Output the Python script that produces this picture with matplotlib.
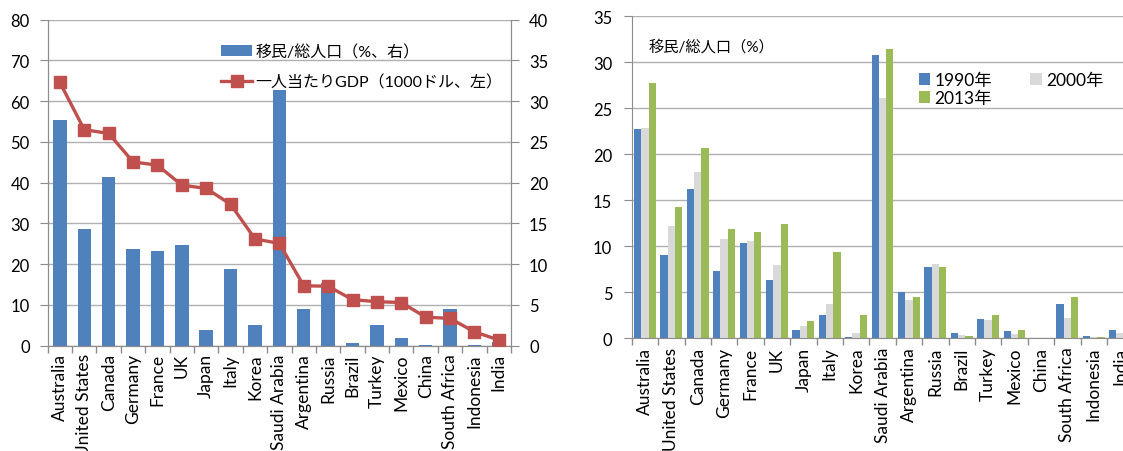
import numpy as np
import matplotlib
matplotlib.use("Agg")
import matplotlib.pyplot as plt
from matplotlib.patches import Patch
from matplotlib.lines import Line2D

plt.rcParams['font.family'] = ['Lato', 'Noto Sans CJK JP', 'DejaVu Sans']

countries = ["Australia", "United States", "Canada", "Germany", "France", "UK",
             "Japan", "Italy", "Korea", "Saudi Arabia", "Argentina", "Russia",
             "Brazil", "Turkey", "Mexico", "China", "South Africa", "Indonesia",
             "India"]

# Immigrant share of total population (%)
share_1990 = [22.7, 9.1, 16.2, 7.35, 10.4, 6.3, 0.9, 2.5, 0.15, 30.8, 5.0, 7.75,
              0.55, 2.1, 0.8, 0.06, 3.75, 0.25, 0.85]
share_2000 = [22.9, 12.2, 18.1, 10.8, 10.6, 8.0, 1.3, 3.7, 0.55, 26.1, 4.2, 8.1,
              0.35, 2.0, 0.5, 0.04, 2.2, 0.15, 0.6]
share_2013 = [27.7, 14.3, 20.7, 11.9, 11.6, 12.4, 1.9, 9.4, 2.5, 31.4, 4.5, 7.7,
              0.3, 2.5, 0.9, 0.07, 4.5, 0.12, 0.5]

# GDP per capita (thousand US$)
gdp_per_capita = [64.6, 53.0, 52.1, 45.1, 44.3, 39.4, 38.6, 34.7, 26.2, 25.1,
                  14.7, 14.6, 11.3, 10.8, 10.6, 7.0, 6.7, 3.4, 1.4]

label_share_lr = "移民/総人口（%、右）"
label_gdp = "一人当たりGDP（1000ドル、左）"
label_share = "移民/総人口（%）"
year_labels = ["1990年", "2000年", "2013年"]

BLUE = "#4F81BD"
GRAY = "#D9D9D9"
GREEN = "#9BBB59"
RED = "#C0504D"
SPINE = "#8C8C8C"
GRID = "#B0B0B0"
FS = 11
TICK_FS = 12
XLABEL_FS = 12.5

W, H = 1123, 452
fig = plt.figure(figsize=(W / 100, H / 100), dpi=100)


def rect(x0, y_top, x1, y_bot):
    return [x0 / W, 1 - y_bot / H, (x1 - x0) / W, (y_bot - y_top) / H]


def style_xaxis(ax, n, pad):
    ax.set_xlim(-0.5, n - 0.5)
    ax.set_xticks(np.arange(n + 1) - 0.5)
    ax.set_xticklabels([])
    ax.set_xticks(np.arange(n), minor=True)
    ax.set_xticklabels(countries, minor=True, rotation=90, fontsize=XLABEL_FS,
                       va="top", ha="center")
    ax.tick_params(axis="x", which="major", length=5, color=SPINE, width=1)
    ax.tick_params(axis="x", which="minor", length=0, pad=pad)


n = len(countries)
x = np.arange(n)

# ---- Left panel: GDP per capita (line, left axis) and 2013 share (bars, right axis)
axl = fig.add_axes(rect(47.7, 20.7, 511, 346.7))
axb = axl.twinx()

axb.bar(x, share_2013, width=0.55, color=BLUE, zorder=2)
axb.set_ylim(0, 40)
axb.set_yticks(np.arange(0, 41, 5))
axb.grid(axis="y", color=GRID, linewidth=1)
axb.set_axisbelow(True)

axl.plot(x, gdp_per_capita, color=RED, linewidth=2.4, marker="s",
         markersize=8.3, markerfacecolor=RED, markeredgecolor=RED, zorder=3)
axl.set_ylim(0, 80)
axl.set_yticks(np.arange(0, 81, 10))
axl.set_zorder(axb.get_zorder() + 1)
axl.patch.set_visible(False)

style_xaxis(axl, n, 5.5)
for a in (axl, axb):
    for s in a.spines.values():
        s.set_color(SPINE)
    a.spines["top"].set_visible(False)
axl.tick_params(axis="y", length=6, color=SPINE, pad=7, labelsize=TICK_FS)
axb.tick_params(axis="y", length=6, color=SPINE, pad=7, labelsize=TICK_FS)

handles = [Patch(facecolor=BLUE, edgecolor="none"),
           Line2D([0], [0], color=RED, linewidth=2.4, marker="s",
                  markersize=8.3)]
axl.legend(handles, [label_share_lr, label_gdp], loc="upper left",
           bbox_to_anchor=(221 / W, 1 - 45 / H), bbox_transform=fig.transFigure,
           frameon=False, fontsize=FS + 0.5, handlelength=1.95, handletextpad=0.2,
           labelspacing=0.95, borderpad=0, borderaxespad=0)

# ---- Right panel: share by year
axr = fig.add_axes(rect(631.7, 17.3, 631.7 + 26.4 * n, 339.3))
bw = 0.277
axr.bar(x - bw, share_1990, width=bw, color=BLUE, zorder=2, label=year_labels[0])
axr.bar(x, share_2000, width=bw, color=GRAY, zorder=2, label=year_labels[1])
axr.bar(x + bw, share_2013, width=bw, color=GREEN, zorder=2, label=year_labels[2])
axr.set_ylim(0, 35)
axr.set_yticks(np.arange(0, 36, 5))
axr.grid(axis="y", color=GRID, linewidth=1)
axr.set_axisbelow(True)
style_xaxis(axr, n, 6)
for s in axr.spines.values():
    s.set_color(SPINE)
axr.spines["top"].set_visible(False)
axr.spines["right"].set_visible(False)
axr.tick_params(axis="y", length=6, color=SPINE, pad=8, labelsize=TICK_FS)

axr.text(649 / W, 1 - 46.7 / H, label_share, transform=fig.transFigure,
         fontsize=FS, va="center", ha="left")

h, l = axr.get_legend_handles_labels()
order = [0, 2, 1]
axr.legend([h[i] for i in order], [l[i] for i in order], ncol=2,
           loc="upper left", bbox_to_anchor=(919 / W, 1 - 73 / H),
           bbox_transform=fig.transFigure, frameon=False, fontsize=12.5,
           handlelength=0.65, handleheight=0.7, handletextpad=0.25,
           columnspacing=2.2, labelspacing=0.1, borderpad=0, borderaxespad=0)

fig.savefig("out.png", dpi=100, facecolor="white")
